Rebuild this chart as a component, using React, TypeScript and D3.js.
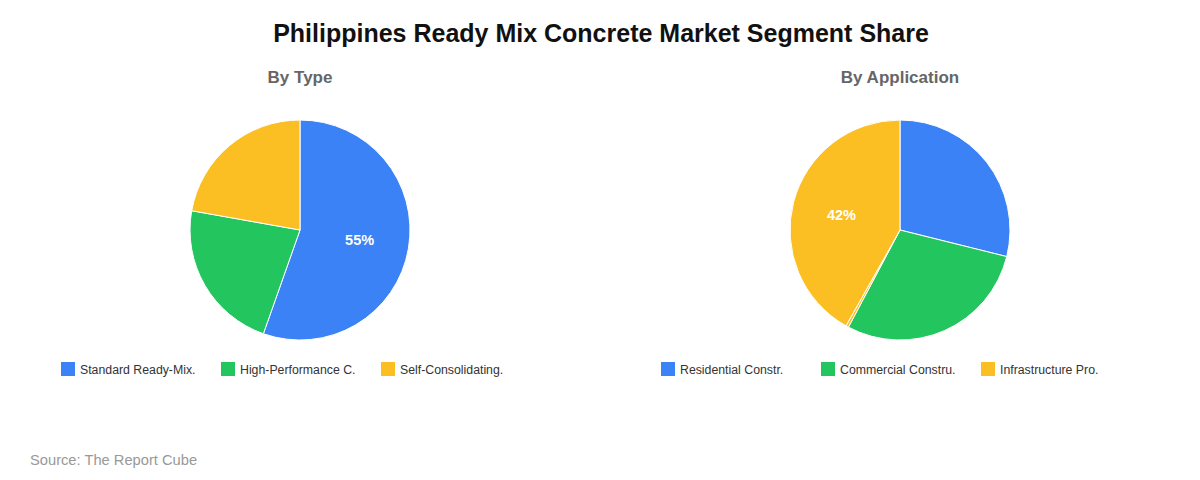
import React from "react";
import * as d3 from "d3";

const typeCategories = ["Standard Ready-Mix.", "High-Performance C.", "Self-Consolidating."];
const typeValues = [55.4, 22.4, 22.2];

const appCategories = ["Residential Constr.", "Commercial Constru.", "Other", "Infrastructure Pro."];
const appValues = [29, 29, 0.4, 42];
const appColorIndex = [0, 1, 2, 2];
const appLegendItems = [0, 1, 3];

const palette = ["#3b82f6", "#22c55e", "#fbbf24"];

const W = 1200;
const H = 480;
const R = 110;
const FONT = "'Liberation Sans', Arial, Helvetica, sans-serif";

function Pie({ cx, cy, title, cats, vals, colorIdx, legendItems }: any) {
  const items = cats.map((c: string, i: number) => ({ c, v: vals[i], col: palette[colorIdx[i]] }));
  const total = d3.sum(vals as number[]);
  const pie = d3.pie<any>().value((d: any) => d.v).sort(null);
  const arcs = pie(items);
  const arc = d3.arc<any>().innerRadius(0).outerRadius(R);
  const labelArc = d3.arc<any>().innerRadius(R * 0.55).outerRadius(R * 0.55);
  const legendX = d3.scaleLinear().domain([0, 1]).range([cx - 239, cx - 79]);
  return (
    <g>
      <text x={cx} y={83} textAnchor="middle" fontSize={17} fontWeight="bold" fill="#666" fontFamily={FONT}>
        {title}
      </text>
      <g transform={`translate(${cx},${cy})`}>
        {arcs.map((a: any, i: number) => (
          <path key={i} d={arc(a) as string} fill={a.data.col} stroke="#fff" strokeWidth={1} />
        ))}
        {arcs.map((a: any, i: number) => {
          const pct = (a.data.v / total) * 100;
          if (pct < 30) return null;
          const [x, y] = labelArc.centroid(a);
          return (
            <text key={"l" + i} x={x} y={y} dy="0.35em" textAnchor="middle" fontSize={14.5} fontWeight="bold" fill="#fff" fontFamily={FONT}>
              {Math.round(pct)}%
            </text>
          );
        })}
      </g>
      {legendItems.map((idx: number, i: number) => (
        <g key={"lg" + i} transform={`translate(${legendX(i)},362)`}>
          <rect width={14} height={14} fill={items[idx].col} />
          <text x={19} y={11.5} fontSize={12.3} fill="#333" fontFamily={FONT}>
            {items[idx].c}
          </text>
        </g>
      ))}
    </g>
  );
}

export default function App() {
  return (
    <svg width={W} height={H} style={{ position: "absolute", left: 0, top: 0, background: "#fff" }}>
      <rect width={W} height={H} fill="#fff" />
      <text x={601} y={42} textAnchor="middle" fontSize={25} fontWeight="bold" fill="#111" fontFamily={FONT}>
        Philippines Ready Mix Concrete Market Segment Share
      </text>
      <Pie cx={300} cy={230} title="By Type" cats={typeCategories} vals={typeValues} colorIdx={[0, 1, 2]} legendItems={[0, 1, 2]} />
      <Pie cx={900} cy={230} title="By Application" cats={appCategories} vals={appValues} colorIdx={appColorIndex} legendItems={appLegendItems} />
      <text x={30} y={465} fontSize={14.7} fill="#999" fontFamily={FONT}>
        Source: The Report Cube
      </text>
    </svg>
  );
}
